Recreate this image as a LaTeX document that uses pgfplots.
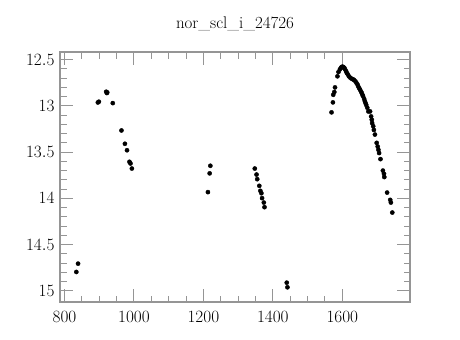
\documentclass[border=0pt]{standalone}
\usepackage{pgfplots}
\pgfplotsset{compat=1.18}
\definecolor{axgray}{HTML}{959595}
\begin{document}
\begin{tikzpicture}
\useasboundingbox (0,0) rectangle (460bp,340bp);
\begin{axis}[
  at={(60bp,38bp)}, anchor=south west,
  scale only axis, width=350bp, height=250bp,
  xmin=787, xmax=1795,
  ymin=12.417, ymax=15.122,
  y dir=reverse,
  xtick={800,1000,1200,1400,1600},
  ytick={12.5,13,13.5,14,14.5,15},
  minor x tick num=3,
  minor y tick num=4,
  tick align=inside,
  major tick length=13bp,
  minor tick length=6.5bp,
  axis line style={color=axgray, line width=1.2bp},
  every tick/.style={color=axgray, line width=1bp},
  /pgf/number format/1000 sep={},
  tick label style={font=\fontsize{16}{19}\selectfont},
  xticklabel style={yshift=-6bp},
  yticklabel style={xshift=-2bp},
  title={nor\_scl\_i\_24726},
  title style={font=\fontsize{17}{20}\selectfont, at={(0.5,1)}, anchor=base, yshift=18bp},
]
\addplot[only marks, mark=*, mark size=2.1bp, black] coordinates {
(834,14.797) (839,14.707)
(896,12.963) (899,12.955)
(920,12.847) (923,12.854) (922,12.861)
(939,12.97)
(964,13.266)
(974,13.41)
(980,13.48)
(987,13.605) (990,13.623)
(994,13.678)
(1213,13.933) (1218,13.73) (1220,13.648)
(1348,13.678) (1353,13.743) (1355,13.793) (1361,13.865) (1364,13.919) (1367,13.945) (1369,13.998) (1374,14.046) (1376,14.096)
(1440,14.913) (1442,14.963)
(1569,13.07) (1573,12.962) (1574,12.88) (1577,12.85) (1579,12.80)
(1586,12.68) (1589,12.633) (1593,12.605) (1596,12.59) (1598,12.58) (1600,12.576) (1602,12.578) (1604,12.583) (1606,12.59) (1608,12.605)
(1611,12.625) (1613,12.644) (1616,12.66) (1619,12.68) (1623,12.695) (1627,12.706) (1631,12.713) (1634,12.72) (1638,12.735) (1641,12.753) (1644,12.77) (1646,12.79)
(1649,12.81) (1651,12.825) (1654,12.845) (1656,12.861) (1658,12.88) (1660,12.897) (1663,12.925) (1665,12.95) (1667,12.97) (1669,12.99) (1672,13.02) (1675,13.06)
(1680,13.06) (1683,13.114) (1685,13.15) (1686,13.186) (1689,13.22) (1691,13.26) (1694,13.31)
(1699,13.40) (1702,13.44) (1704,13.475) (1706,13.51) (1710,13.576)
(1717,13.70) (1720,13.735) (1721,13.77)
(1729,13.938) (1738,14.017) (1740,14.046) (1744,14.154)
};
\end{axis}
\end{tikzpicture}
\end{document}
